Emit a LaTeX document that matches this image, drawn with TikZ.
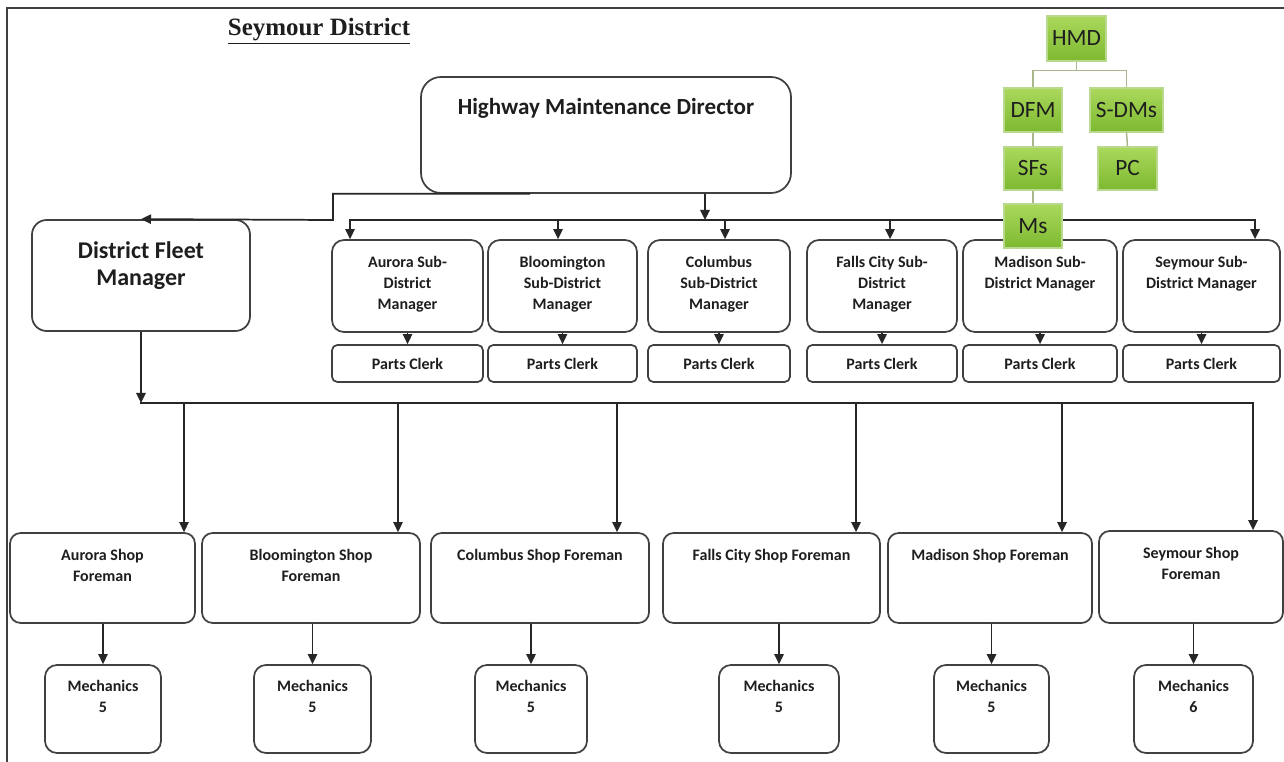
\documentclass[tikz,border=0pt]{standalone}
\usepackage{fontspec}
\setmainfont{Carlito}
\newfontfamily\serifttl{Liberation Serif}
\usetikzlibrary{arrows.meta,calc}

\definecolor{edge}{HTML}{404040}
\definecolor{ink}{HTML}{1E1E1E}
\definecolor{limeA}{HTML}{ABD85C}
\definecolor{limeB}{HTML}{7DB930}
\definecolor{limeedge}{HTML}{B9D98F}
\definecolor{limeline}{HTML}{AAB68C}

\tikzset{
  box/.style={draw=edge, line width=1.3pt, fill=white, inner sep=0pt, text=ink},
  lbl/.style={font=\bfseries\fontsize{12}{15.8}\selectfont, align=center, inner sep=0pt, anchor=north, text=ink},
  link/.style={draw=black!85, line width=1.3pt},
  arr/.style={link, -{Triangle[length=7.5pt,width=7pt]}},
  tag/.style={draw=limeedge, line width=0.8pt, top color=limeA, bottom color=limeB,
              font=\fontsize{17.5}{20}\selectfont, inner sep=0pt, text=ink},
  tagline/.style={draw=limeline, line width=1.1pt}
}

% box from corner (x1,y1) to (x2,y2), in pixel-like units
\newcommand\orgbox[7]{%
  \node[#6, minimum width={(#4-#2)*0.75pt}, minimum height={(#5-#3)*0.75pt}]
    (#1) at ({(#2+#4)/2},{(#3+#5)/2}) {#7};}
% text block hanging from the top edge of a box
\newcommand\orglabel[4]{%
  \node[lbl,#4] (#1-t) at ($(#1.north)+(0,#2)$) {#3};}

\begin{document}
\begin{tikzpicture}[x=0.75pt,y=-0.75pt]
\useasboundingbox[fill=white] (0,0) rectangle (1284,762);

% frame
\draw[edge, line width=2pt] (7,762) -- (7,8) -- (1284,8);

% title
\node[font=\serifttl\bfseries\fontsize{18.7}{22}\selectfont, anchor=base, inner sep=0pt, text=ink]
  (title) at (319,36) {\underline{Seymour District}};

% director and fleet manager
\orgbox{hmd}{421}{77}{791}{193}{box,rounded corners=15pt}{}
\orglabel{hmd}{22}{Highway Maintenance Director}{font=\bfseries\fontsize{17.3}{20}\selectfont}
\orgbox{dfm}{32}{220}{250}{331}{box,rounded corners=11pt}{}
\orglabel{dfm}{22}{District Fleet\\Manager}{font=\bfseries\fontsize{18}{20.3}\selectfont}

% sub-district managers and parts clerks
\orgbox{sdA}{332}{240}{483}{332}{box,rounded corners=9pt}{}
\orgbox{sdB}{488}{240}{637}{332}{box,rounded corners=9pt}{}
\orgbox{sdC}{648}{240}{790}{332}{box,rounded corners=9pt}{}
\orgbox{sdF}{807}{240}{957}{332}{box,rounded corners=9pt}{}
\orgbox{sdM}{963}{240}{1117}{332}{box,rounded corners=9pt}{}
\orgbox{sdS}{1123}{240}{1280}{332}{box,rounded corners=9pt}{}
\orglabel{sdA}{17}{Aurora Sub-\\District\\Manager}{}
\orglabel{sdB}{17}{Bloomington\\Sub-District\\Manager}{}
\orglabel{sdC}{17}{Columbus\\Sub-District\\Manager}{}
\orglabel{sdF}{17}{Falls City Sub-\\District\\Manager}{}
\orglabel{sdM}{17}{Madison Sub-\\District Manager}{}
\orglabel{sdS}{17}{Seymour Sub-\\District Manager}{}

\foreach \n in {A,B,C,F,M,S}{
  \path (sd\n.south) coordinate (sd\n-x);
}
\orgbox{pcA}{332}{345}{483}{382}{box,rounded corners=4pt,font=\bfseries\fontsize{12}{15.8}\selectfont}{Parts Clerk}
\orgbox{pcB}{488}{345}{637}{382}{box,rounded corners=4pt,font=\bfseries\fontsize{12}{15.8}\selectfont}{Parts Clerk}
\orgbox{pcC}{648}{345}{790}{382}{box,rounded corners=4pt,font=\bfseries\fontsize{12}{15.8}\selectfont}{Parts Clerk}
\orgbox{pcF}{807}{345}{957}{382}{box,rounded corners=4pt,font=\bfseries\fontsize{12}{15.8}\selectfont}{Parts Clerk}
\orgbox{pcM}{963}{345}{1117}{382}{box,rounded corners=4pt,font=\bfseries\fontsize{12}{15.8}\selectfont}{Parts Clerk}
\orgbox{pcS}{1123}{345}{1280}{382}{box,rounded corners=4pt,font=\bfseries\fontsize{12}{15.8}\selectfont}{Parts Clerk}

% shop foremen and mechanics
\orgbox{fA}{10}{533}{195}{623}{box,rounded corners=8pt}{}
\orgbox{fB}{202}{533}{420}{623}{box,rounded corners=8pt}{}
\orgbox{fC}{431}{533}{649}{623}{box,rounded corners=8pt}{}
\orgbox{fF}{663}{533}{880}{623}{box,rounded corners=8pt}{}
\orgbox{fM}{888}{533}{1092}{623}{box,rounded corners=8pt}{}
\orgbox{fS}{1099}{531}{1283}{623}{box,rounded corners=8pt}{}
\orglabel{fA}{17}{Aurora Shop\\Foreman}{}
\orglabel{fB}{17}{Bloomington Shop\\Foreman}{}
\orglabel{fC}{17}{Columbus Shop Foreman}{}
\orglabel{fF}{17}{Falls City Shop Foreman}{}
\orglabel{fM}{17}{Madison Shop Foreman}{}
\orglabel{fS}{17}{Seymour Shop\\Foreman}{}

\orgbox{mA}{45}{665}{161}{753}{box,rounded corners=9pt}{}
\orgbox{mB}{254}{665}{371}{753}{box,rounded corners=9pt}{}
\orgbox{mC}{475}{665}{587}{753}{box,rounded corners=9pt}{}
\orgbox{mF}{719}{665}{839}{753}{box,rounded corners=9pt}{}
\orgbox{mM}{934}{665}{1049}{753}{box,rounded corners=9pt}{}
\orgbox{mS}{1134}{665}{1253}{753}{box,rounded corners=9pt}{}
\orglabel{mA}{16}{Mechanics\\5}{}
\orglabel{mB}{16}{Mechanics\\5}{}
\orglabel{mC}{16}{Mechanics\\5}{}
\orglabel{mF}{16}{Mechanics\\5}{}
\orglabel{mM}{16}{Mechanics\\5}{}
\orglabel{mS}{16}{Mechanics\\6}{}

% director to fleet manager
\draw[arr] ($(hmd.south)+(-76,0)$) -| (333,220) -- (dfm.north);

% director to sub-district managers
\coordinate (mbus) at (705,220);
\draw[arr] (hmd.south -| mbus) -- (mbus);
\foreach \n/\dx in {A/-57.5, B/-4.5, C/6, F/8, M/0, S/53.5}{
  \path ($(sd\n.north)+(\dx,0)$) coordinate (sd\n-in);
  \draw[arr] (sd\n-in |- mbus) -- (sd\n-in);
}
\draw[link, line cap=rect] (sdA-in |- mbus) -- (sdS-in |- mbus);

% managers to parts clerks
\foreach \n in {A,B,C,F,M,S}{
  \draw[arr] (sd\n.south) -- (pc\n.north);
}

% fleet manager to shop foremen
\coordinate (fbus) at (141,403);
\draw[arr] (dfm.south) -- (fbus);
\foreach \n/\dx in {A/81.5, B/87, C/77, F/84.5, M/72, S/62}{
  \path ($(f\n.north)+(\dx,0)$) coordinate (f\n-in);
  \draw[arr] (f\n-in |- fbus) -- (f\n-in);
}
\draw[link, line cap=rect] (fbus) -- (fS-in |- fbus);

% shop foremen to mechanics
\foreach \n in {A,B,C,F,M,S}{
  \draw[arr] (m\n.north |- f\n.south) -- (m\n.north);
}

% summary chart
\orgbox{gHMD}{1047}{16}{1106}{61}{tag}{HMD}
\orgbox{gDFM}{1004}{88}{1062}{132}{tag}{DFM}
\orgbox{gSDM}{1090}{88}{1163}{132}{tag}{S-DMs}
\orgbox{gSF}{1004}{147}{1062}{190}{tag}{SFs}
\orgbox{gPC}{1098}{147}{1157}{190}{tag}{PC}
\draw[tagline] (gHMD.south) -- ++(0,9);
\draw[tagline] (gDFM.north) |- ($(gHMD.south)+(0,9)$) -| (gSDM.north);
\draw[tagline] (gDFM.south) -- (gSF.north);
\draw[tagline] (gSDM.south) -- (gPC.north);
\orgbox{gMs}{1004}{204}{1062}{248}{tag}{Ms}
\draw[tagline] (gSF.south) -- (gMs.north);
\end{tikzpicture}
\end{document}
